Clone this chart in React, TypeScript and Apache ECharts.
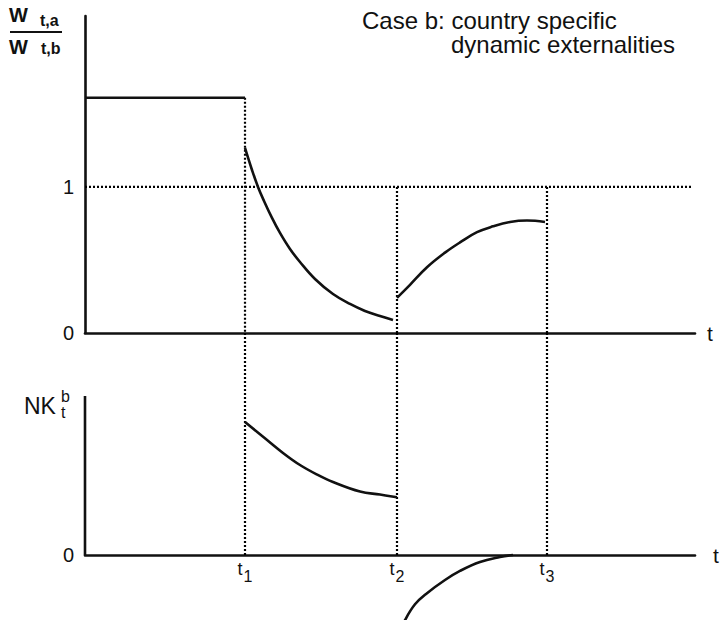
import React, { useEffect, useRef } from "react";
import * as echarts from "echarts";

// ---- data (x in time units, y in panel units) ----
const T_TICKS = [16.0, 31.2, 46.2];
const T_LABELS = ["1", "2", "3"];
const X_MAX = 61;
const TOP_Y_MAX = 2.17;
const TOP_Y_LABELS = [0, 1];
const BOTTOM_Y_MAX = 1.4;
const BOTTOM_Y_LABELS = [0];
const BOTTOM_AXIS_TOP = 1.0;
const REFERENCE_LEVEL = 1;
const REFERENCE_END = 60.7;
const INITIAL_LEVEL = 1.61;

const wageBefore = [
  [0, 1.61],
  [16.0, 1.61],
];
const wagePhase1 = [
  [16.0, 1.267], [16.7, 1.116], [17.3, 1.0], [17.9, 0.904], [18.7, 0.788],
  [19.5, 0.685], [20.5, 0.575], [21.5, 0.486], [23.0, 0.37], [24.8, 0.267],
  [26.5, 0.199], [28.0, 0.151], [29.5, 0.116], [30.8, 0.089],
];
const wagePhase2 = [
  [31.2, 0.24], [32.5, 0.33], [34.2, 0.45], [36.0, 0.55], [37.5, 0.62],
  [39.2, 0.69], [40.8, 0.73], [42.5, 0.76], [44.2, 0.77], [46.0, 0.76],
];
const nkPhase1 = [
  [16.0, 0.836], [17.9, 0.739], [19.8, 0.642], [21.5, 0.566], [23.2, 0.506],
  [24.8, 0.459], [27.5, 0.399], [29.5, 0.38], [31.2, 0.363],
];
const nkPhase2 = [
  [31.8, -0.45], [32.0, -0.41], [33.0, -0.31], [34.2, -0.24], [36.0, -0.157],
  [37.5, -0.1], [39.5, -0.044], [41.5, -0.013], [42.8, 0],
];

const FONT = "'Liberation Sans', Arial, Helvetica, sans-serif";
const INK = "#111";

function lineSeries(data: number[][], idx: number, opts: any = {}) {
  return {
    type: "line",
    xAxisIndex: idx,
    yAxisIndex: idx,
    data,
    symbol: "none",
    silent: true,
    smooth: opts.smooth ?? false,
    clip: opts.clip ?? true,
    lineStyle: {
      color: opts.dotted ? "#000" : INK,
      width: opts.width ?? 2.6,
      type: opts.dotted ? [2, 2] : "solid",
    },
    z: opts.dotted ? 1 : 3,
  };
}

const rich = {
  t: { fontSize: 18, fontFamily: FONT, color: INK, verticalAlign: "bottom" },
  s: { fontSize: 16, fontFamily: FONT, color: INK, verticalAlign: "bottom", padding: [0, 0, -6, 1] },
};

export default function App() {
  const ref = useRef<HTMLDivElement>(null);
  useEffect(() => {
    document.body.style.margin = "0";
    const chart = echarts.init(ref.current!, null, { renderer: "svg" });

    const verticalTop = [INITIAL_LEVEL, REFERENCE_LEVEL, REFERENCE_LEVEL];
    const series: any[] = [
      lineSeries([[0, REFERENCE_LEVEL], [REFERENCE_END, REFERENCE_LEVEL]], 0, { dotted: true, width: 2.2 }),
      ...T_TICKS.map((t, i) => lineSeries([[t, verticalTop[i]], [t, 0]], 0, { dotted: true, width: 2.2 })),
      ...T_TICKS.map((t) => lineSeries([[t, 0], [t, BOTTOM_Y_MAX]], 1, { dotted: true, width: 2.2 })),
      lineSeries(wageBefore, 0, { width: 2.6 }),
      lineSeries(wagePhase1, 0, { smooth: 0.4 }),
      lineSeries(wagePhase2, 0, { smooth: 0.4 }),
      lineSeries([[0, 0], [0, BOTTOM_AXIS_TOP]], 1, { width: 2.6 }),
      lineSeries(nkPhase1, 1, { smooth: 0.4 }),
      lineSeries(nkPhase2, 1, { smooth: 0.4, clip: false }),
    ];

    const axisLine = { show: true, onZero: false, lineStyle: { color: INK, width: 2.6 } };
    const labelBase = { fontSize: 20, fontFamily: FONT, color: INK };

    chart.setOption({
      animation: false,
      backgroundColor: "#fff",
      grid: [
        { left: 85, top: 16, width: 610, height: 317, outerBoundsMode: "none" },
        { left: 85, top: 332.4, width: 610, height: 222.6, outerBoundsMode: "none" },
      ],
      xAxis: [
        {
          gridIndex: 0, type: "value", min: 0, max: X_MAX,
          axisLine, axisTick: { show: false }, splitLine: { show: false },
          axisLabel: { show: false },
          name: "t", nameLocation: "end", nameGap: 12,
          nameTextStyle: { ...labelBase, fontSize: 21, verticalAlign: "middle", padding: [6, 0, 0, 0] },
        },
        {
          gridIndex: 1, type: "value", min: 0, max: X_MAX,
          axisLine, axisTick: { show: false }, splitLine: { show: false },
          axisLabel: {
            show: true, margin: 5, customValues: T_TICKS,
            formatter: (v: number) => {
              const i = T_TICKS.findIndex((t) => Math.abs(t - v) < 1e-6);
              return i < 0 ? "" : `{t|t}{s|${T_LABELS[i]}}`;
            },
            rich,
          },
          name: "t", nameLocation: "end", nameGap: 18,
          nameTextStyle: { ...labelBase, fontSize: 21, verticalAlign: "middle", padding: [6, 0, 0, 0] },
        },
      ],
      yAxis: [
        {
          gridIndex: 0, type: "value", min: 0, max: TOP_Y_MAX,
          axisLine, axisTick: { show: false }, splitLine: { show: false },
          axisLabel: { ...labelBase, margin: 11, customValues: TOP_Y_LABELS, formatter: (v: number) => String(v) },
        },
        {
          gridIndex: 1, type: "value", min: 0, max: BOTTOM_Y_MAX,
          axisLine: { show: false }, axisTick: { show: false }, splitLine: { show: false },
          axisLabel: { ...labelBase, margin: 11, customValues: BOTTOM_Y_LABELS, formatter: (v: number) => String(v) },
        },
      ],
      graphic: [
        { type: "text", left: 362, top: 8.5, style: { text: "Case b: country specific", font: `24px ${FONT}`, fill: INK } },
        { type: "text", left: 451, top: 32, style: { text: "dynamic externalities", font: `24px ${FONT}`, fill: INK } },
        { type: "text", left: 9, top: 4.5, style: { text: "W", font: `bold 20px ${FONT}`, fill: INK } },
        { type: "text", left: 40, top: 12, style: { text: "t,a", font: `bold 16px ${FONT}`, fill: INK } },
        { type: "line", shape: { x1: 10, y1: 32, x2: 62, y2: 32 }, style: { stroke: INK, lineWidth: 2 } },
        { type: "text", left: 9, top: 36.5, style: { text: "W", font: `bold 20px ${FONT}`, fill: INK } },
        { type: "text", left: 41, top: 40, style: { text: "t,b", font: `bold 16px ${FONT}`, fill: INK } },
        { type: "text", left: 24, top: 394, style: { text: "NK", font: `23px ${FONT}`, fill: INK } },
        { type: "text", left: 61, top: 388, style: { text: "b", font: `16px ${FONT}`, fill: INK } },
        { type: "text", left: 61, top: 404.5, style: { text: "t", font: `16px ${FONT}`, fill: INK } },
      ],
      series,
    });
    return () => chart.dispose();
  }, []);
  return <div ref={ref} style={{ width: 720, height: 620 }} />;
}
